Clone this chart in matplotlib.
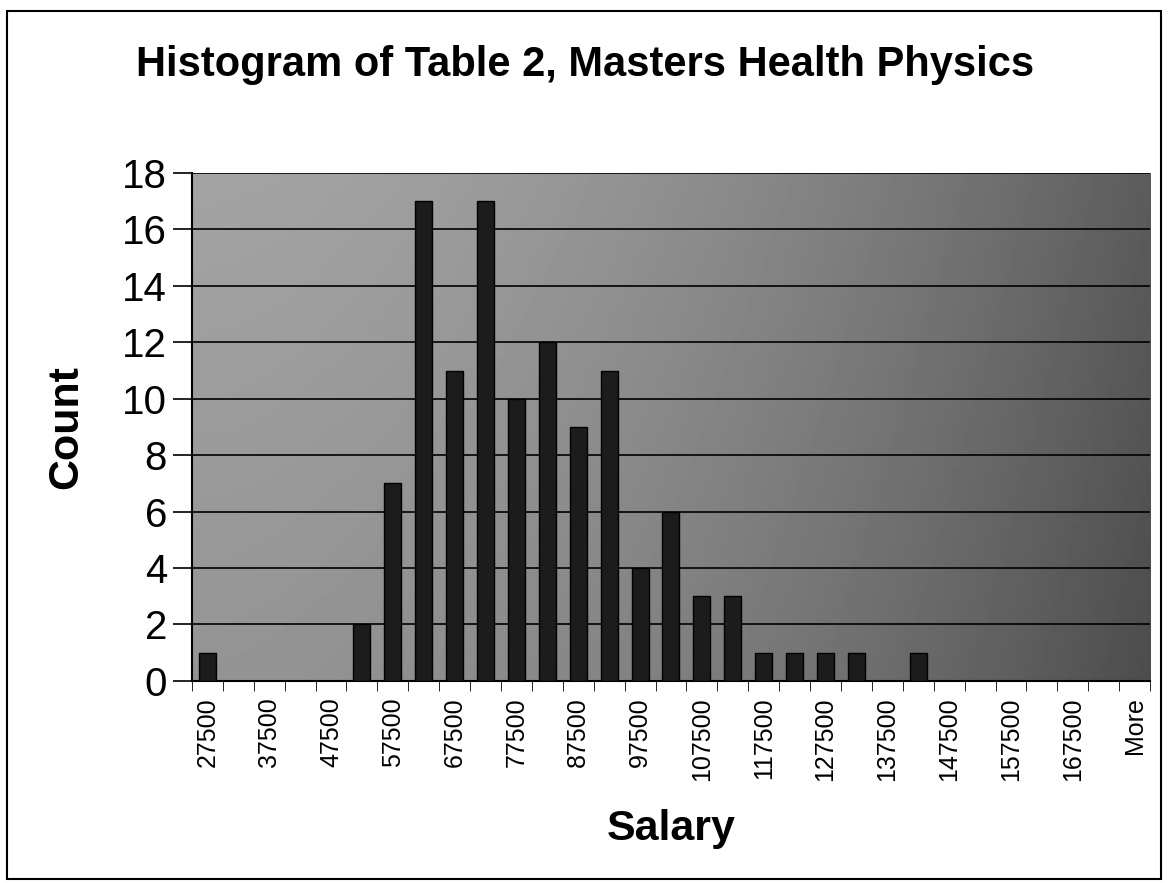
import matplotlib
matplotlib.use("Agg")
import matplotlib.pyplot as plt
import numpy as np

# bin labels (upper edge of each salary bin) and the counts
bins = [27500, 32500, 37500, 42500, 47500, 52500, 57500, 62500, 67500, 72500,
        77500, 82500, 87500, 92500, 97500, 102500, 107500, 112500, 117500,
        122500, 127500, 132500, 137500, 142500, 147500, 152500, 157500,
        162500, 167500, 172500]
bin_labels = [str(b) for b in bins] + ["More"]
counts = [1, 0, 0, 0, 0, 2, 7, 17, 11, 17, 10, 12, 9, 11, 4, 6, 3, 3, 1,
          1, 1, 1, 0, 1, 0, 0, 0, 0, 0, 0, 0]

plt.rcParams["font.family"] = ["Liberation Sans", "DejaVu Sans"]

fig = plt.figure(figsize=(11.7, 8.83), dpi=100)
ax = fig.add_axes([0.164, 0.229, 0.819, 0.575])

x = np.arange(len(bin_labels))

# grey shaded plot background, lighter on the left, darker on the right
gx = np.linspace(0, 1, 200)
gy = np.linspace(0, 1, 100)
GX, GY = np.meshgrid(gx, gy)
shade = 0.64 - 0.28 * GX ** 1.8 - 0.06 * GY
ax.imshow(shade, cmap="gray", vmin=0, vmax=1, aspect="auto",
          extent=[-0.5, len(bin_labels) - 0.5, 0, 18], zorder=0)

ax.bar(x, counts, width=0.55, color="#1c1c1c", edgecolor="black",
       linewidth=1, zorder=3)

ax.set_xlim(-0.5, len(bin_labels) - 0.5)
ax.set_ylim(0, 18)
ax.set_yticks(np.arange(0, 19, 2))
ax.grid(axis="y", color="black", linewidth=1.2, zorder=1)
ax.set_axisbelow(False)

ax.set_xticks(x[::2])
ax.set_xticklabels(bin_labels[::2], rotation=90, fontsize=18)
ax.set_xticks(np.arange(-0.5, len(bin_labels), 1), minor=True)
ax.tick_params(axis="x", which="major", length=0, pad=12)
ax.tick_params(axis="x", which="minor", length=7, color="black")
ax.tick_params(axis="y", labelsize=29, length=14, width=1.2, pad=4)

for side in ["top", "right"]:
    ax.spines[side].set_visible(False)
ax.spines["left"].set_linewidth(1.5)
ax.spines["bottom"].set_linewidth(1.5)

ax.set_xlabel("Salary", fontsize=31, fontweight="bold", labelpad=20)
ax.set_ylabel("Count", fontsize=31, fontweight="bold", labelpad=26)
fig.text(0.5, 0.926, "Histogram of Table 2, Masters Health Physics",
         ha="center", va="center", fontsize=30, fontweight="bold")

# outer chart frame
fig.patches.append(plt.Rectangle((0.006, 0.005), 0.986, 0.983,
                                 transform=fig.transFigure, fill=False,
                                 edgecolor="black", linewidth=1.5))

fig.savefig("out.png", dpi=100)
